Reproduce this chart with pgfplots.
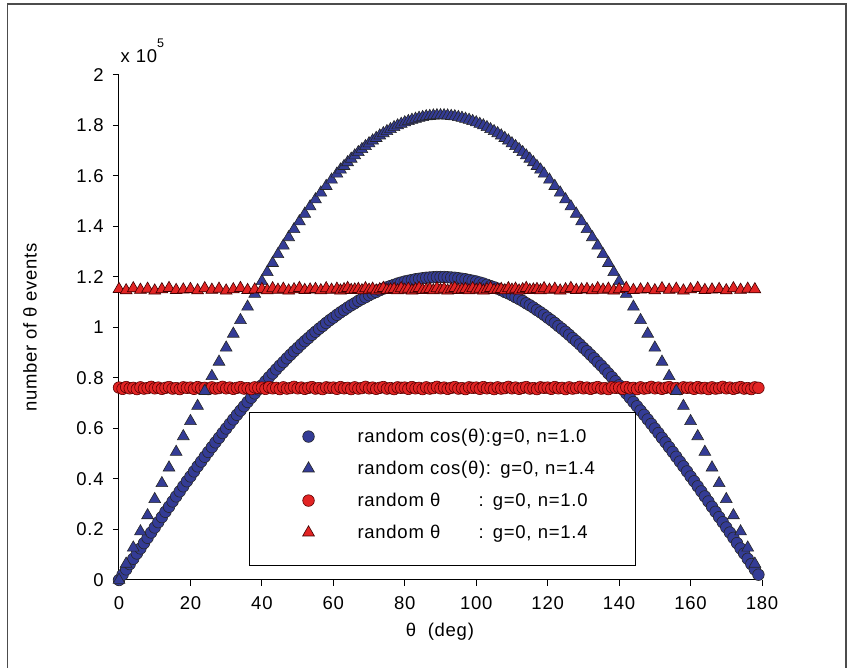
\documentclass[border=0pt]{standalone}
\usepackage{fontspec}
\setmainfont{Liberation Sans}[LetterSpace=4]
\usepackage{pgfplots}
\pgfplotsset{compat=1.18}
\definecolor{cblue}{RGB}{52,60,150}
\definecolor{cred}{RGB}{226,36,36}
\begin{document}
\fontsize{18.5}{22}\selectfont
\begin{tikzpicture}
\path[use as bounding box] (0,0) rectangle (851pt,668pt);
\draw[gray!60!black, line width=1.6pt] (7.5pt,0) -- (7.5pt,664pt) -- (846pt,664pt) -- (846pt,0);
\begin{axis}[
  at={(119pt,88pt)}, anchor=south west,
  width=643pt, height=505pt, scale only axis,
  xmin=0, xmax=180, ymin=0, ymax=2,
  axis x line*=bottom, axis y line*=left,
  axis line style={-, line width=1pt},
  tick align=outside, major tick length=6pt,
  every tick/.style={black, line width=1pt},
  xtick={0,20,40,60,80,100,120,140,160,180},
  ytick={0,0.2,0.4,0.6,0.8,1,1.2,1.4,1.6,1.8,2},
  /pgf/number format/assume math mode=true,
  yticklabel style={xshift=-3pt},
  xticklabel style={yshift=-4pt},
  xlabel={θ\ \ (deg)},
  ylabel={number of θ events},
  xlabel style={at={(axis description cs:0.499,-0.103)}, anchor=center},
  ylabel style={at={(axis description cs:-0.1384,0.5)}, anchor=center},
  clip=false,
  legend image code/.code={\path[draw=none,fill=none] (0pt,5.5pt) -- (108pt,5.5pt); \draw plot coordinates {(59pt,5.5pt)};},
  legend style={at={(axis cs:36.4,0.665)}, anchor=north west, draw=black, line width=1pt,
    inner xsep=0pt, inner ysep=12.5pt, row sep=0pt, column sep=0pt,
    cells={anchor=base west},
    nodes={inner xsep=0pt, inner ysep=0pt, text height=17pt, text depth=15pt, text width=278pt}},
  bc/.style={only marks, mark=*, mark size=5.8pt, mark options={fill=cblue, draw=black!85, line width=0.6pt}},
  bt/.style={only marks, mark=triangle*, mark size=6.8pt, mark options={fill=cblue, draw=black!85, line width=0.6pt}},
  rc/.style={only marks, mark=*, mark size=5.8pt, mark options={fill=cred, draw=red!35!black, line width=0.6pt}},
  rt/.style={only marks, mark=triangle*, mark size=6.8pt, mark options={fill=cred, draw=red!25!black, line width=0.6pt}},
]
\addlegendimage{bc}\addlegendentry{random cos(θ):g=0, n=1.0}
\addlegendimage{bt}\addlegendentry{random cos(θ): g=0, n=1.4}
\addlegendimage{rc}\addlegendentry{\makebox[121pt][l]{random θ}: g=0, n=1.0}
\addlegendimage{rt}\addlegendentry{\makebox[121pt][l]{random θ}: g=0, n=1.4}

% blue circles: random cos(theta), n=1.0
\addplot[bc, forget plot] coordinates {
(0,0)(1,0.021)(2,0.042)(3,0.063)(4,0.084)(5,0.105)(6,0.125)(7,0.146)(8,0.167)(9,0.188)(10,0.208)(11,0.229)(12,0.249)(13,0.270)(14,0.290)(15,0.311)(16,0.331)(17,0.351)(18,0.371)(19,0.391)(20,0.410)(21,0.430)(22,0.450)(23,0.469)(24,0.488)(25,0.507)(26,0.526)(27,0.545)(28,0.563)(29,0.582)(30,0.600)(31,0.618)(32,0.636)(33,0.654)(34,0.671)(35,0.688)(36,0.705)(37,0.722)(38,0.739)(39,0.755)(40,0.771)(41,0.787)(42,0.803)(43,0.818)(44,0.834)(45,0.849)(46,0.863)(47,0.878)(48,0.892)(49,0.906)(50,0.919)(51,0.933)(52,0.946)(53,0.958)(54,0.971)(55,0.983)(56,0.995)(57,1.006)(58,1.018)(59,1.029)(60,1.039)(61,1.050)(62,1.060)(63,1.069)(64,1.079)(65,1.088)(66,1.096)(67,1.105)(68,1.113)(69,1.120)(70,1.128)(71,1.135)(72,1.141)(73,1.148)(74,1.154)(75,1.159)(76,1.164)(77,1.169)(78,1.174)(79,1.178)(80,1.182)(81,1.185)(82,1.188)(83,1.191)(84,1.193)(85,1.195)(86,1.197)(87,1.198)(88,1.199)(89,1.200)(90,1.200)
(91,1.200)(92,1.199)(93,1.198)(94,1.197)(95,1.195)(96,1.193)(97,1.191)(98,1.188)(99,1.185)(100,1.182)(101,1.178)(102,1.174)(103,1.169)(104,1.164)(105,1.159)(106,1.154)(107,1.148)(108,1.141)(109,1.135)(110,1.128)(111,1.120)(112,1.113)(113,1.105)(114,1.096)(115,1.088)(116,1.079)(117,1.069)(118,1.060)(119,1.050)(120,1.039)(121,1.029)(122,1.018)(123,1.006)(124,0.995)(125,0.983)(126,0.971)(127,0.958)(128,0.946)(129,0.933)(130,0.919)(131,0.906)(132,0.892)(133,0.878)(134,0.863)(135,0.849)(136,0.834)(137,0.818)(138,0.803)(139,0.787)(140,0.771)(141,0.755)(142,0.739)(143,0.722)(144,0.705)(145,0.688)(146,0.671)(147,0.654)(148,0.636)(149,0.618)(150,0.600)(151,0.582)(152,0.563)(153,0.545)(154,0.526)(155,0.507)(156,0.488)(157,0.469)(158,0.450)(159,0.430)(160,0.410)(161,0.391)(162,0.371)(163,0.351)(164,0.331)(165,0.311)(166,0.290)(167,0.270)(168,0.249)(169,0.229)(170,0.208)(171,0.188)(172,0.167)(173,0.146)(174,0.125)(175,0.105)(176,0.084)(177,0.063)(178,0.042)(179,0.021)
};

% red circles: random theta, n=1.0
\addplot[rc, forget plot] coordinates {
(0,0.762)(1,0.757)(2,0.764)(3,0.759)(4,0.761)(5,0.756)(6,0.763)(7,0.758)(8,0.760)(9,0.765)(10,0.759)(11,0.762)(12,0.757)(13,0.761)(14,0.764)(15,0.758)(16,0.760)(17,0.756)(18,0.763)(19,0.761)
(20,0.762)(21,0.757)(22,0.764)(23,0.759)(24,0.761)(25,0.756)(26,0.763)(27,0.758)(28,0.760)(29,0.765)(30,0.759)(31,0.762)(32,0.757)(33,0.761)(34,0.764)(35,0.758)(36,0.760)(37,0.756)(38,0.763)(39,0.761)
(40,0.762)(41,0.757)(42,0.764)(43,0.759)(44,0.761)(45,0.756)(46,0.763)(47,0.758)(48,0.760)(49,0.765)(50,0.759)(51,0.762)(52,0.757)(53,0.761)(54,0.764)(55,0.758)(56,0.760)(57,0.756)(58,0.763)(59,0.761)
(60,0.762)(61,0.757)(62,0.764)(63,0.759)(64,0.761)(65,0.756)(66,0.763)(67,0.758)(68,0.760)(69,0.765)(70,0.759)(71,0.762)(72,0.757)(73,0.761)(74,0.764)(75,0.758)(76,0.760)(77,0.756)(78,0.763)(79,0.761)
(80,0.762)(81,0.757)(82,0.764)(83,0.759)(84,0.761)(85,0.756)(86,0.763)(87,0.758)(88,0.760)(89,0.765)(90,0.759)(91,0.762)(92,0.757)(93,0.761)(94,0.764)(95,0.758)(96,0.760)(97,0.756)(98,0.763)(99,0.761)
(100,0.762)(101,0.757)(102,0.764)(103,0.759)(104,0.761)(105,0.756)(106,0.763)(107,0.758)(108,0.760)(109,0.765)(110,0.759)(111,0.762)(112,0.757)(113,0.761)(114,0.764)(115,0.758)(116,0.760)(117,0.756)(118,0.763)(119,0.761)
(120,0.762)(121,0.757)(122,0.764)(123,0.759)(124,0.761)(125,0.756)(126,0.763)(127,0.758)(128,0.760)(129,0.765)(130,0.759)(131,0.762)(132,0.757)(133,0.761)(134,0.764)(135,0.758)(136,0.760)(137,0.756)(138,0.763)(139,0.761)
(140,0.762)(141,0.757)(142,0.764)(143,0.759)(144,0.761)(145,0.756)(146,0.763)(147,0.758)(148,0.760)(149,0.765)(150,0.759)(151,0.762)(152,0.757)(153,0.761)(154,0.764)(155,0.758)(156,0.760)(157,0.756)(158,0.763)(159,0.761)
(160,0.762)(161,0.757)(162,0.764)(163,0.759)(164,0.761)(165,0.756)(166,0.763)(167,0.758)(168,0.760)(169,0.765)(170,0.759)(171,0.762)(172,0.757)(173,0.761)(174,0.764)(175,0.758)(176,0.760)(177,0.756)(178,0.763)(179,0.761)
};

% blue triangles: random cos(theta), n=1.4
\addplot[bt, forget plot] coordinates {
(0,0)(2,0.064)(4,0.128)(6,0.192)(8,0.256)(10,0.320)(12,0.383)(14,0.445)(16,0.507)(18,0.569)(20,0.629)(22,0.689)(24,0.748)(26,0.807)(28,0.864)(30,0.920)(32,0.975)(34,1.029)(36,1.082)(38,1.133)(40,1.183)
(41.5,1.219)(43,1.255)(44.5,1.290)(46,1.324)(47.5,1.357)(49,1.389)(50.5,1.420)(52,1.450)(53.5,1.479)(55,1.507)(56.5,1.534)(58,1.560)(59.5,1.585)
(61,1.609)(62,1.625)(63,1.639)(64,1.654)(65,1.668)(66,1.681)(67,1.694)(68,1.706)(69,1.718)(70,1.729)(71,1.740)(72,1.750)(73,1.760)(74,1.769)(75,1.777)(76,1.785)(77,1.793)(78,1.800)(79,1.806)(80,1.812)(81,1.817)(82,1.822)(83,1.826)(84,1.830)(85,1.833)(86,1.836)(87,1.837)(88,1.839)(89,1.840)(90,1.840)
(91,1.840)(92,1.839)(93,1.837)(94,1.836)(95,1.833)(96,1.830)(97,1.826)(98,1.822)(99,1.817)(100,1.812)(101,1.806)(102,1.800)(103,1.793)(104,1.785)(105,1.777)(106,1.769)(107,1.760)(108,1.750)(109,1.740)(110,1.729)(111,1.718)(112,1.706)(113,1.694)(114,1.681)(115,1.668)(116,1.654)(117,1.639)(118,1.625)(119,1.609)
(120.5,1.585)(122,1.560)(123.5,1.534)(125,1.507)(126.5,1.479)(128,1.450)(129.5,1.420)(131,1.389)(132.5,1.357)(134,1.324)(135.5,1.290)(137,1.255)(138.5,1.219)
(140,1.183)(142,1.133)(144,1.082)(146,1.029)(148,0.975)(150,0.920)(152,0.864)(154,0.807)(156,0.748)(158,0.689)(160,0.629)(162,0.569)(164,0.507)(166,0.445)(168,0.383)(170,0.320)(172,0.256)(174,0.192)(176,0.128)(178,0.064)
};

% red triangles: random theta, n=1.4
\addplot[rt, forget plot] coordinates {
(0,1.152)(2,1.147)(4,1.155)(6,1.149)(8,1.153)(10,1.146)(12,1.151)(14,1.156)(16,1.148)(18,1.150)(20,1.152)(22,1.147)(24,1.155)(26,1.149)(28,1.153)(30,1.146)(32,1.151)(34,1.156)(36,1.148)(38,1.150)(40,1.152)
(41.5,1.147)(43,1.155)(44.5,1.149)(46,1.153)(47.5,1.146)(49,1.151)(50.5,1.156)(52,1.148)(53.5,1.150)(55,1.152)(56.5,1.147)(58,1.155)(59.5,1.149)
(61,1.153)(62,1.146)(63,1.151)(64,1.156)(65,1.148)(66,1.150)(67,1.152)(68,1.147)(69,1.155)(70,1.149)(71,1.153)(72,1.146)(73,1.151)(74,1.156)(75,1.148)(76,1.150)(77,1.152)(78,1.147)(79,1.155)(80,1.149)(81,1.153)(82,1.146)(83,1.151)(84,1.156)(85,1.148)(86,1.150)(87,1.152)(88,1.147)(89,1.155)(90,1.149)
(91,1.153)(92,1.146)(93,1.151)(94,1.156)(95,1.148)(96,1.150)(97,1.152)(98,1.147)(99,1.155)(100,1.149)(101,1.153)(102,1.146)(103,1.151)(104,1.156)(105,1.148)(106,1.150)(107,1.152)(108,1.147)(109,1.155)(110,1.149)(111,1.153)(112,1.146)(113,1.151)(114,1.156)(115,1.148)(116,1.150)(117,1.152)(118,1.147)(119,1.155)
(120.5,1.149)(122,1.153)(123.5,1.146)(125,1.151)(126.5,1.156)(128,1.148)(129.5,1.150)(131,1.152)(132.5,1.147)(134,1.155)(135.5,1.149)(137,1.153)(138.5,1.146)
(140,1.151)(142,1.156)(144,1.148)(146,1.150)(148,1.152)(150,1.147)(152,1.155)(154,1.149)(156,1.153)(158,1.146)(160,1.151)(162,1.156)(164,1.148)(166,1.150)(168,1.152)(170,1.147)(172,1.155)(174,1.149)(176,1.153)(178,1.151)
};

\node[anchor=base west, inner sep=0pt, yshift=12pt, xshift=1.5pt] at (rel axis cs:0,1) {x 10\raisebox{15pt}{\fontsize{12.5}{13}\selectfont 5}};
\end{axis}
\end{tikzpicture}
\end{document}
